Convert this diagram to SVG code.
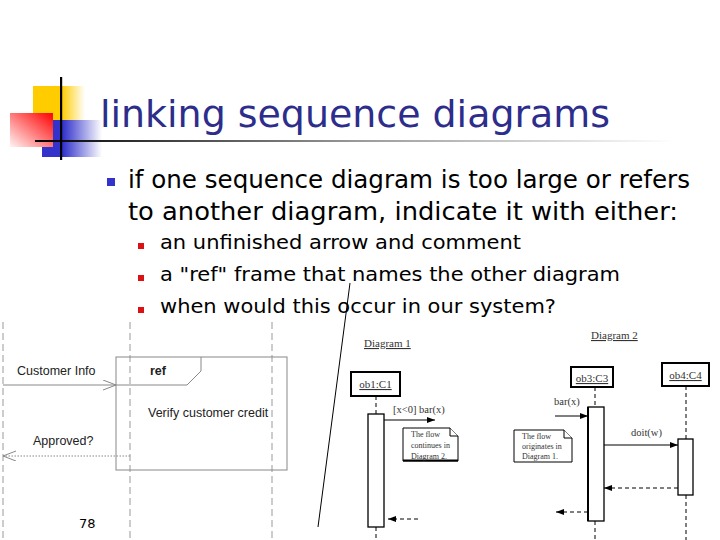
<svg xmlns="http://www.w3.org/2000/svg" width="720" height="540" viewBox="0 0 720 540">
<style>
.title{font-family:"DejaVu Sans","Liberation Sans",sans-serif;font-size:38px;fill:#2D2D8C}
.b1{font-family:"DejaVu Sans","Liberation Sans",sans-serif;font-size:24px;fill:#000}
.b2{font-family:"DejaVu Sans","Liberation Sans",sans-serif;font-size:20px;fill:#000}
.pg{font-family:"DejaVu Sans","Liberation Sans",sans-serif;font-size:13px;fill:#000}
.ar{font-family:"Liberation Sans",Arial,sans-serif;font-size:12.5px;fill:#222}
.tm{font-family:"Liberation Serif","Times New Roman",serif;fill:#333}
.life{stroke:#999;stroke-width:1;stroke-dasharray:7 4;fill:none}
.frame{stroke:#888;stroke-width:1;fill:none}
.gline{stroke:#888;stroke-width:1;fill:none}
.bk{stroke:#000;stroke-width:1;fill:none}
.bdash{stroke:#000;stroke-width:1;stroke-dasharray:4 3;fill:none}
.box{stroke:#000;stroke-width:2;fill:#fff}
.act{stroke:#000;stroke-width:1.3;fill:#fff}
.note{stroke:#000;stroke-width:1;fill:#fff}
</style>
<defs>
<linearGradient id="gy" x1="0" y1="0" x2="1" y2="0">
<stop offset="0" stop-color="#FFCC00"/><stop offset="0.55" stop-color="#FFCC00"/><stop offset="1" stop-color="#FFCC00" stop-opacity="0"/>
</linearGradient>
<linearGradient id="gr" x1="0" y1="1" x2="1" y2="0">
<stop offset="0" stop-color="#FFF4F4"/><stop offset="1" stop-color="#FF0000"/>
</linearGradient>
<linearGradient id="gb" x1="0" y1="0" x2="1" y2="0">
<stop offset="0" stop-color="#3333CC"/><stop offset="0.35" stop-color="#3333CC"/><stop offset="1" stop-color="#3333CC" stop-opacity="0"/>
</linearGradient>
<linearGradient id="gl" x1="0" y1="0" x2="1" y2="0">
<stop offset="0" stop-color="#000"/><stop offset="0.5" stop-color="#999"/><stop offset="1" stop-color="#fff"/>
</linearGradient>
<marker id="open" markerUnits="userSpaceOnUse" markerWidth="14" markerHeight="11" refX="13" refY="5" orient="auto">
<path d="M0,0 L13,5 L0,10" fill="none" stroke="#888" stroke-width="1"/>
</marker>
<marker id="fill" markerUnits="userSpaceOnUse" markerWidth="8" markerHeight="6" refX="8" refY="3" orient="auto">
<path d="M0,0 L8,3 L0,6 z" fill="#000"/>
</marker>
</defs>
<rect width="720" height="540" fill="#fff"/>

<g id="logo">
<rect x="33" y="86" width="52" height="34" fill="url(#gy)"/>
<rect x="42" y="120" width="60" height="37" fill="url(#gb)"/>
<rect x="10" y="113" width="43" height="34" fill="url(#gr)"/>
<rect x="35" y="140" width="640" height="2" fill="url(#gl)"/>
<rect x="60" y="77" width="2.2" height="83" fill="#000"/>
</g>

<g id="title">
<text class="title" x="100" y="127" textLength="510" lengthAdjust="spacingAndGlyphs">linking sequence diagrams</text>
</g>

<g id="bullets">
<rect x="107" y="178" width="8" height="8" fill="#3333CC"/>
<text class="b1" x="128" y="188" textLength="562" lengthAdjust="spacingAndGlyphs">if one sequence diagram is too large or refers</text>
<text class="b1" x="128" y="220" textLength="550" lengthAdjust="spacingAndGlyphs">to another diagram, indicate it with either:</text>
<rect x="138" y="243" width="6" height="6" fill="#DD1111"/>
<text class="b2" x="160" y="249" textLength="361" lengthAdjust="spacingAndGlyphs">an unfinished arrow and comment</text>
<rect x="138" y="275" width="6" height="6" fill="#DD1111"/>
<text class="b2" x="160" y="281" textLength="460" lengthAdjust="spacingAndGlyphs">a "ref" frame that names the other diagram</text>
<rect x="138" y="307" width="6" height="6" fill="#DD1111"/>
<text class="b2" x="160" y="313" textLength="396" lengthAdjust="spacingAndGlyphs">when would this occur in our system?</text>
</g>

<g id="ref-diagram">
<line class="life" x1="3" y1="322" x2="3" y2="540"/>
<line class="life" x1="130" y1="322" x2="130" y2="540"/>
<line class="life" x1="272" y1="322" x2="272" y2="540"/>
<g id="ref-frame">
<rect class="frame" x="116" y="357" width="171" height="113"/>
<path class="frame" d="M116,385 L187,385 L201,371 L201,357"/>
<text class="ar" x="150" y="375" font-weight="bold">ref</text>
<text class="ar" x="148" y="417">Verify customer credit</text>
</g>
<text class="ar" x="17" y="375">Customer Info</text>
<text class="ar" x="33" y="445">Approved?</text>
</g>

<g id="divider">
<line class="bk" x1="350" y1="283" x2="318" y2="527"/>
</g>

<g id="diagram1">
<text class="tm" x="364" y="347" font-size="11" text-decoration="underline">Diagram 1</text>
<g id="ob1">
<rect class="box" x="351" y="372" width="49" height="24"/>
<text class="tm" x="375.5" y="388" font-size="11" text-anchor="middle" text-decoration="underline">ob1:C1</text>
</g>
<line class="bdash" x1="376" y1="396" x2="376" y2="414"/>
<line class="bdash" x1="376" y1="527" x2="376" y2="540"/>
<rect class="act" x="368" y="414" width="16" height="113"/>
<text class="tm" x="393" y="413" font-size="10.5">[x&lt;0] bar(x)</text>
<g id="note1">
<path class="note" d="M403,428 L450,428 L458,436 L458,461 L403,461 Z"/>
<path class="note" d="M450,428 L450,436 L458,436"/>
<line x1="403" y1="460.5" x2="458" y2="460.5" stroke="#000" stroke-width="2"/>
<text class="tm" x="411" y="437" font-size="8">The flow</text>
<text class="tm" x="411" y="448" font-size="8">continues in</text>
<text class="tm" x="411" y="459" font-size="8">Diagram 2.</text>
</g>
</g>

<g id="diagram2">
<text class="tm" x="591" y="339" font-size="11" text-decoration="underline">Diagram 2</text>
<g id="ob3">
<rect class="box" x="571" y="367" width="42" height="20" stroke-width="1.3"/>
<text class="tm" x="592" y="382" font-size="11" text-anchor="middle" text-decoration="underline">ob3:C3</text>
</g>
<g id="ob4">
<rect class="box" x="662" y="363" width="47" height="23"/>
<text class="tm" x="685.5" y="379" font-size="11" text-anchor="middle" text-decoration="underline">ob4:C4</text>
</g>
<line class="bdash" x1="595" y1="387" x2="595" y2="407"/>
<line class="bdash" x1="595" y1="521" x2="595" y2="540"/>
<line class="bdash" x1="686" y1="386" x2="686" y2="439"/>
<line class="bdash" x1="686" y1="495" x2="686" y2="540"/>
<rect class="act" x="588" y="407" width="16" height="114"/>
<line x1="588" y1="407" x2="588" y2="521" stroke="#000" stroke-width="2"/>
<rect class="act" x="678" y="439" width="15" height="56"/>
<text class="tm" x="554" y="405" font-size="10.5">bar(x)</text>
<text class="tm" x="631" y="436" font-size="10.5">doit(w)</text>
<g id="note2">
<path class="note" d="M514,430 L564,430 L572,438 L572,462 L514,462 Z"/>
<path class="note" d="M564,430 L564,438 L572,438"/>
<text class="tm" x="522" y="439" font-size="8">The flow</text>
<text class="tm" x="522" y="449" font-size="8">originates in</text>
<text class="tm" x="522" y="459" font-size="8">Diagram 1.</text>
</g>
</g>

<g id="connectors">
<line class="gline" x1="3" y1="385" x2="116" y2="385" marker-end="url(#open)"/>
<line class="gline" x1="130" y1="456" x2="3" y2="456" stroke-dasharray="1.5 1.5" marker-end="url(#open)"/>
<line class="bk" x1="384" y1="420" x2="435" y2="420" marker-end="url(#fill)"/>
<line class="bdash" x1="418" y1="519" x2="388" y2="519" marker-end="url(#fill)"/>
<line class="bk" x1="555" y1="416" x2="588" y2="416" marker-end="url(#fill)"/>
<line class="bk" x1="604" y1="445" x2="678" y2="445" marker-end="url(#fill)"/>
<line class="bdash" x1="678" y1="488" x2="604" y2="488" marker-end="url(#fill)"/>
<line class="bdash" x1="588" y1="512" x2="556" y2="512" marker-end="url(#fill)"/>
</g>

<g id="page-number">
<text class="pg" x="79" y="528">78</text>
</g>
</svg>
